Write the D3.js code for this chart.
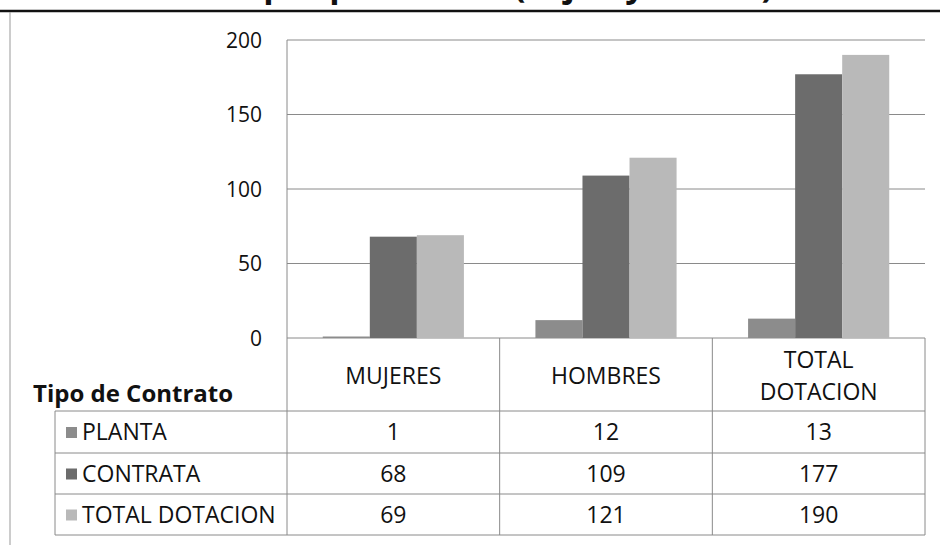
<!DOCTYPE html>
<html>
<head>
    <meta charset="UTF-8" />
    <title>dotacion</title>
    <style>
        body {
            margin: 0;
            padding: 0;
            background: white;
            font-family: 'Open Sans', Lato, sans-serif;
        }
    </style>
</head>
<body>
    <svg id="chart" width="940" height="545"></svg>

    <script src="https://cdnjs.cloudflare.com/ajax/libs/d3/7.8.5/d3.min.js"></script>
    <script>
        const categories = ['MUJERES', 'HOMBRES', 'TOTAL DOTACION']
        const headerLines = [['MUJERES'], ['HOMBRES'], ['TOTAL', 'DOTACION']]
        const series = ['PLANTA', 'CONTRATA', 'TOTAL DOTACION']
        const planta = [1, 12, 13]
        const contrata = [68, 109, 177]
        const totalDotacion = [69, 121, 190]
        const yTicks = [0, 50, 100, 150, 200]
        const colors = ['#8c8c8c', '#6c6c6c', '#b9b9b9']
        const values = [planta, contrata, totalDotacion]

        const svg = d3.select('#chart')

        // title runs off the top of the scan, only its descenders show
        svg.append('text')
            .attr('x', 148).attr('y', -3)
            .attr('textLength', 625).attr('lengthAdjust', 'spacing')
            .style('font-size', '34px').style('font-weight', 'bold').style('fill', '#111')
            .text('Dotación por Tipo de Contrato (Mujeres y Hombres)')
        svg.append('line')
            .attr('x1', 0).attr('x2', 940).attr('y1', 11).attr('y2', 11)
            .attr('stroke', '#111').attr('stroke-width', 2.5)
        svg.append('line')
            .attr('x1', 10).attr('x2', 10).attr('y1', 12).attr('y2', 545)
            .attr('stroke', '#999').attr('stroke-width', 1)

        const plotLeft = 287, plotRight = 925, plotTop = 40, plotBase = 338

        const x = d3.scaleBand().domain(categories).range([plotLeft, plotRight])
        const xs = d3.scaleBand().domain(series).range([0, x.bandwidth()]).paddingOuter(0.76)
        const y = d3.scaleLinear().domain([0, 200]).range([plotBase, plotTop])

        // gridlines
        svg.append('g').selectAll('line')
            .data(yTicks)
            .join('line')
            .attr('x1', plotLeft).attr('x2', plotRight)
            .attr('y1', d => y(d)).attr('y2', d => y(d))
            .attr('stroke', '#8a8a8a').attr('stroke-width', 1)

        svg.append('line')
            .attr('x1', plotLeft).attr('x2', plotLeft).attr('y1', plotTop).attr('y2', plotBase)
            .attr('stroke', '#8a8a8a')

        svg.append('g').selectAll('text')
            .data(yTicks)
            .join('text')
            .attr('x', 262).attr('y', d => y(d))
            .attr('dy', '0.36em')
            .attr('text-anchor', 'end')
            .style('font-size', '21px').style('fill', '#111')
            .text(d => d)

        // bars
        series.forEach((s, i) => {
            svg.append('g').selectAll('rect')
                .data(categories)
                .join('rect')
                .attr('x', c => x(c) + xs(s))
                .attr('width', xs.bandwidth())
                .attr('y', (c, j) => y(values[i][j]))
                .attr('height', (c, j) => plotBase - y(values[i][j]))
                .attr('fill', colors[i])
        })

        // data table
        const rowEdges = [plotBase, 411, 453, 494, 535]
        const tableLeft = 55
        const grid = svg.append('g').attr('stroke', '#8a8a8a').attr('stroke-width', 1)

        rowEdges.slice(1).forEach(r => {
            grid.append('line').attr('x1', tableLeft).attr('x2', plotRight).attr('y1', r).attr('y2', r)
        })
        grid.append('line').attr('x1', tableLeft).attr('x2', tableLeft)
            .attr('y1', rowEdges[1]).attr('y2', rowEdges[4])
        const colEdges = [plotLeft].concat(categories.map(c => x(c) + x.bandwidth()))
        colEdges.forEach(cx => {
            grid.append('line').attr('x1', cx).attr('x2', cx).attr('y1', plotBase).attr('y2', rowEdges[4])
        })

        categories.forEach((c, i) => {
            const lines = headerLines[i]
            const cy = (rowEdges[0] + rowEdges[1]) / 2
            lines.forEach((t, k) => {
                svg.append('text')
                    .attr('x', x(c) + x.bandwidth() / 2)
                    .attr('y', cy + 1 + (k - (lines.length - 1) / 2) * 32)
                    .attr('dy', '0.36em')
                    .attr('text-anchor', 'middle')
                    .style('font-size', '23px').style('fill', '#111')
                    .text(t)
            })
        })

        svg.append('text')
            .attr('x', 33).attr('y', 402)
            .style('font-size', '24px').style('font-weight', 'bold').style('fill', '#111')
            .text('Tipo de Contrato')

        series.forEach((s, i) => {
            const cy = (rowEdges[i + 1] + rowEdges[i + 2]) / 2
            svg.append('rect')
                .attr('x', 66).attr('y', cy - 5).attr('width', 11).attr('height', 11)
                .attr('fill', colors[i])
            svg.append('text')
                .attr('x', 82).attr('y', cy).attr('dy', '0.36em')
                .style('font-size', '23px').style('fill', '#111')
                .text(s)
            categories.forEach((c, j) => {
                svg.append('text')
                    .attr('x', x(c) + x.bandwidth() / 2).attr('y', cy).attr('dy', '0.36em')
                    .attr('text-anchor', 'middle')
                    .style('font-size', '23px').style('fill', '#111')
                    .text(values[i][j])
            })
        })
    </script>
</body>
</html>
